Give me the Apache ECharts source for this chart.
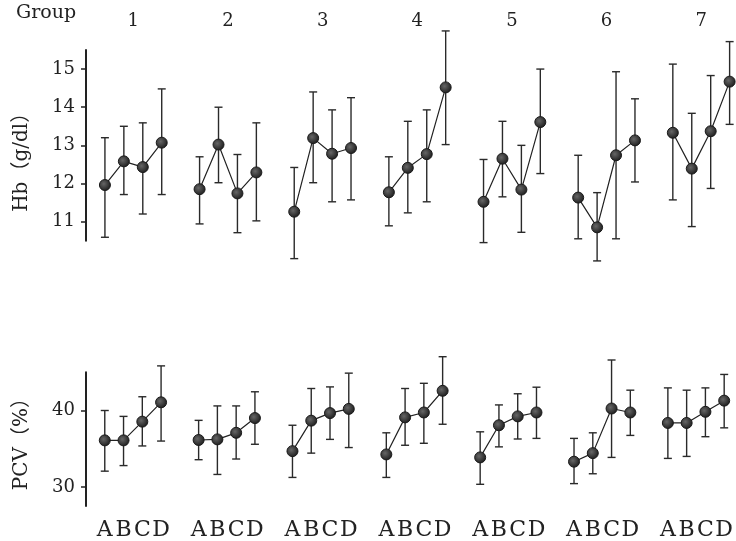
<!DOCTYPE html>
<html>
<head>
<meta charset="utf-8">
<title>Hb / PCV by group</title>
<script src="https://cdn.jsdelivr.net/npm/echarts@6/dist/echarts.min.js"></script>
<style>
  html, body { margin: 0; padding: 0; background: #fff; }
  #chart { width: 736px; height: 541px; }
</style>
</head>
<body>
<div id="chart"></div>
<script>
// groups and the four time points inside each group
const groups = ['1', '2', '3', '4', '5', '6', '7'];
const points = ['A', 'B', 'C', 'D'];
const hbTicks = [11, 12, 13, 14, 15];
const pcvTicks = [30, 40];

// Hb (g/dl): mean, upper and lower end of the bar, one row per group (A..D)
const hbMean = [
  [11.96, 12.58, 12.43, 13.07],
  [11.85, 13.02, 11.74, 12.29],
  [11.26, 13.19, 12.78, 12.93],
  [11.77, 12.41, 12.77, 14.52],
  [11.52, 12.65, 11.84, 13.61],
  [11.63, 10.85, 12.74, 13.13],
  [13.33, 12.39, 13.37, 14.67]
];
const hbHigh = [
  [13.20, 13.50, 13.59, 14.48],
  [12.70, 14.00, 12.76, 13.59],
  [12.42, 14.40, 13.93, 14.25],
  [12.70, 13.63, 13.93, 16.00],
  [12.63, 13.63, 13.00, 15.00],
  [12.74, 11.76, 14.93, 14.22],
  [15.13, 13.84, 14.83, 15.72]
];
const hbLow = [
  [10.59, 11.71, 11.20, 11.71],
  [10.94, 12.02, 10.71, 11.02],
  [10.03, 12.02, 11.52, 11.57],
  [10.89, 11.23, 11.52, 13.02],
  [10.45, 11.65, 10.72, 12.26],
  [10.55, 9.97, 10.55, 12.04],
  [11.57, 10.87, 11.87, 13.55]
];

// PCV (%)
const pcvMean = [
  [36.09, 36.09, 38.54, 41.07],
  [36.14, 36.22, 37.08, 39.01],
  [34.68, 38.67, 39.66, 40.21],
  [34.25, 39.10, 39.74, 42.58],
  [33.86, 38.07, 39.23, 39.74],
  [33.30, 34.42, 40.26, 39.74],
  [38.37, 38.37, 39.83, 41.29]
];
const pcvHigh = [
  [40.00, 39.23, 41.80, 45.84],
  [38.71, 40.60, 40.60, 42.45],
  [38.07, 42.88, 43.09, 44.89],
  [37.08, 42.88, 43.56, 47.04],
  [37.21, 40.73, 42.19, 43.05],
  [36.35, 37.08, 46.61, 42.66],
  [42.96, 42.66, 42.96, 44.72]
];
const pcvLow = [
  [32.06, 32.79, 35.36, 36.00],
  [33.56, 31.63, 33.65, 35.58],
  [31.24, 34.42, 36.22, 35.15],
  [31.24, 35.45, 35.71, 38.20],
  [30.34, 35.24, 36.27, 36.35],
  [30.43, 31.72, 33.86, 36.74],
  [33.73, 33.99, 36.57, 37.73]
];

const FONT = "'DejaVu Serif', 'Noto Sans CJK JP', serif";
const INK = '#222';

// each group takes 4 slots plus one empty slot
const slot = (g, p) => g * 5 + p;
const allSlots = [];
groups.forEach((_, g) => points.forEach((_, p) => allSlots.push(slot(g, p))));

const chart = echarts.init(document.getElementById('chart'));

function errorBar(params, api) {
  const x = api.value(0);
  const hi = api.coord([x, api.value(1)]);
  const lo = api.coord([x, api.value(2)]);
  const w = 4;
  const style = { stroke: '#2a2a2a', lineWidth: 1.4 };
  return {
    type: 'group',
    children: [
      { type: 'line', shape: { x1: hi[0], y1: hi[1], x2: lo[0], y2: lo[1] }, style },
      { type: 'line', shape: { x1: hi[0] - w, y1: hi[1], x2: hi[0] + w, y2: hi[1] }, style },
      { type: 'line', shape: { x1: lo[0] - w, y1: lo[1], x2: lo[0] + w, y2: lo[1] }, style }
    ]
  };
}

function panelSeries(idx, mean, high, low) {
  const bars = [];
  groups.forEach((_, g) => points.forEach((_, p) => bars.push([slot(g, p), high[g][p], low[g][p]])));
  const list = [{
    type: 'custom',
    xAxisIndex: idx,
    yAxisIndex: idx,
    renderItem: errorBar,
    encode: { x: 0, y: [1, 2] },
    data: bars,
    z: 2
  }];
  groups.forEach((_, g) => {
    list.push({
      type: 'line',
      xAxisIndex: idx,
      yAxisIndex: idx,
      data: points.map((_, p) => [slot(g, p), mean[g][p]]),
      symbol: 'circle',
      symbolSize: 11,
      lineStyle: { color: INK, width: 1.2 },
      itemStyle: {
        color: new echarts.graphic.RadialGradient(0.4, 0.4, 0.6, [
          { offset: 0, color: '#666' },
          { offset: 1, color: '#1e1e1e' }
        ]),
        borderColor: '#1a1a1a',
        borderWidth: 1
      },
      z: 3
    });
  });
  return list;
}

function yAxisFor(idx, name, min, max, ticks, namePad) {
  return {
    type: 'value',
    gridIndex: idx,
    min: min,
    max: max,
    name: name,
    nameLocation: 'middle',
    nameGap: 54,
    nameTextStyle: { fontFamily: FONT, fontSize: 20, color: INK, padding: namePad },
    axisLine: { show: true, onZero: false, lineStyle: { color: INK, width: 2 } },
    axisTick: { show: true, length: 5, customValues: ticks, lineStyle: { color: INK, width: 1.5 } },
    axisLabel: { customValues: ticks, margin: 11, fontFamily: FONT, fontSize: 18, color: INK },
    splitLine: { show: false }
  };
}

const option = {
  backgroundColor: '#fff',
  animation: false,
  title: {
    text: 'Group',
    left: 16,
    top: 4,
    padding: 0,
    textStyle: { fontFamily: FONT, fontSize: 19, fontWeight: 'normal', color: INK }
  },
  grid: [
    { left: 86, top: 50, width: 649.3, height: 190.7 },
    { left: 86, top: 372.3, width: 649.3, height: 134.4 }
  ],
  xAxis: [
    {
      type: 'value',
      gridIndex: 0,
      position: 'top',
      min: -1,
      max: 33.3,
      axisLine: { show: false, onZero: false },
      axisTick: { show: false },
      splitLine: { show: false },
      axisLabel: {
        customValues: groups.map((_, g) => g * 5 + 1.5),
        formatter: v => groups[Math.round((v - 1.5) / 5)],
        margin: 20,
        fontFamily: FONT,
        fontSize: 18,
        color: INK
      }
    },
    {
      type: 'value',
      gridIndex: 1,
      position: 'bottom',
      min: -1,
      max: 33.3,
      axisLine: { show: false, onZero: false },
      axisTick: { show: false },
      splitLine: { show: false },
      axisLabel: {
        customValues: allSlots,
        formatter: v => points[Math.round(v) % 5],
        margin: 13,
        fontFamily: FONT,
        fontSize: 22,
        color: INK
      }
    }
  ],
  yAxis: [
    yAxisFor(0, 'Hb（g/dl）', 10.5, 15.5, hbTicks, [0, 24, 0, 0]),
    yAxisFor(1, 'PCV（%）', 27.5, 45, pcvTicks, 0)
  ],
  series: [
    ...panelSeries(0, hbMean, hbHigh, hbLow),
    ...panelSeries(1, pcvMean, pcvHigh, pcvLow)
  ]
};

chart.setOption(option);
</script>
</body>
</html>
